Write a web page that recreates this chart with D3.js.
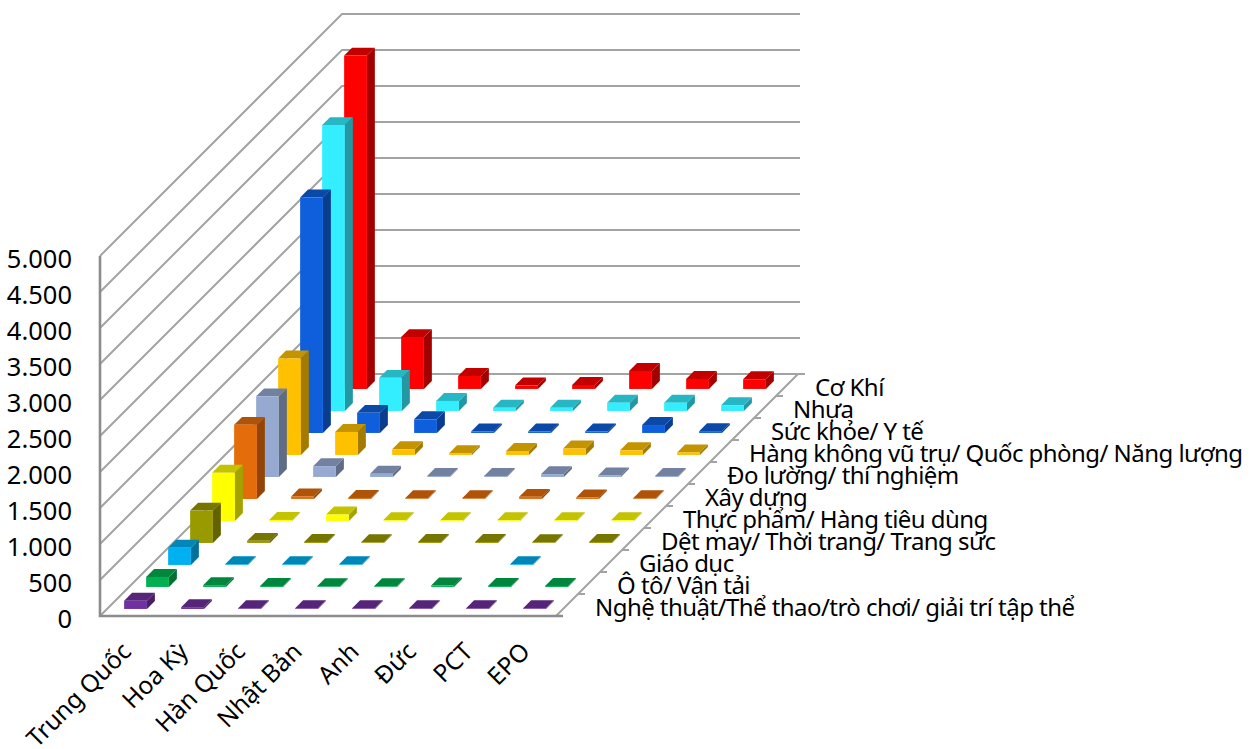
<!DOCTYPE html>
<html lang="vi">
<head>
<meta charset="utf-8">
<title>Biểu đồ cột 3D</title>
<script src="https://cdn.jsdelivr.net/npm/d3@7/dist/d3.min.js"></script>
<style>
  html, body { margin: 0; padding: 0; background: #fff; }
  svg { display: block; }
  text { font-family: "Noto Sans", "Open Sans", sans-serif; fill: #000; }
</style>
</head>
<body>
<svg id="chart" width="1256" height="749"></svg>
<script>
const countries = ["Trung Quốc", "Hoa Kỳ", "Hàn Quốc", "Nhật Bản", "Anh", "Đức", "PCT", "EPO"];
const sectors = [
  "Nghệ thuật/Thể thao/trò chơi/ giải trí tập thể",
  "Ô tô/ Vận tải",
  "Giáo dục",
  "Dệt may/ Thời trang/ Trang sức",
  "Thực phẩm/ Hàng tiêu dùng",
  "Xây dựng",
  "Đo lường/ thí nghiệm",
  "Hàng không vũ trụ/ Quốc phòng/ Năng lượng",
  "Sức khỏe/ Y tế",
  "Nhựa",
  "Cơ Khí"
];
const sectorColors = ["#7030a0", "#00b050", "#00b0f0", "#999900", "#ffff00", "#e46c0a", "#95a9d1", "#ffc000", "#0f5fdd", "#33eeff", "#ff0000"];
const valueTicks = [0, 500, 1000, 1500, 2000, 2500, 3000, 3500, 4000, 4500, 5000];

// One row per sector, one value per country; null means no bar at all.
const artsValues     = [115, 25, 10, 10, 10, 10, 10, 10];
const transportValues = [140, 25, 15, 10, 10, 20, 15, 15];
const educationValues = [240, 10, 10, 10, null, null, 10, null];
const textileValues  = [450, 30, 15, 10, 15, 15, 10, 15];
const foodValues     = [670, 15, 90, 10, 10, 10, 10, 10];
const buildingValues = [1030, 35, 15, 10, 10, 30, 20, 10];
const measureValues  = [1120, 150, 45, 15, 15, 40, 20, 15];
const energyValues   = [1340, 320, 80, 25, 55, 90, 65, 35];
const healthValues   = [3270, 280, 190, 20, 20, 20, 110, 25];
const plasticValues  = [3970, 460, 140, 45, 45, 115, 115, 80];
const mechanicValues = [4630, 720, 180, 50, 55, 250, 140, 135];
const sectorValues = [artsValues, transportValues, educationValues, textileValues, foodValues,
  buildingValues, measureValues, energyValues, healthValues, plasticValues, mechanicValues];

const svg = d3.select("#chart");

// Oblique projection: x runs along countries, z into the picture along sectors, y upward.
const xScale = d3.scaleBand().domain(d3.range(countries.length)).range([0, 456]).paddingInner(0.6).paddingOuter(0.3);
const zScale = d3.scaleBand().domain(d3.range(sectors.length)).range([0, 242]).paddingInner(0.64).paddingOuter(0.32);
const yScale = d3.scaleLinear().domain([0, 5000]).range([0, 360]);
const originX = 100, originY = 616, floorW = 456, floorD = 242;
const project = (x, y, z) => [originX + x + z, originY - y - z];
const points = (arr) => arr.map(p => p.join(",")).join(" ");

const gridColor = "#a3a3a3";
const walls = svg.append("g").attr("fill", "none").attr("stroke", gridColor).attr("stroke-width", 2);

// Side wall and back wall gridlines for every value tick.
valueTicks.forEach(v => {
  const y = yScale(v);
  const a = project(0, y, 0), b = project(0, y, floorD), c = project(floorW + 2, y, floorD);
  walls.append("polyline").attr("points", points([a, b, c]));
});

// Floor edges and the small ticks between sectors.
const floorEdge = svg.append("g").attr("fill", "none").attr("stroke", gridColor).attr("stroke-width", 2);
floorEdge.append("line")
  .attr("x1", project(floorW, 0, 0)[0]).attr("y1", project(floorW, 0, 0)[1])
  .attr("x2", project(floorW, 0, floorD)[0]).attr("y2", project(floorW, 0, floorD)[1]);
d3.range(sectors.length + 1).forEach(j => {
  const z = j * floorD / sectors.length;
  const p = project(floorW, 0, z);
  floorEdge.append("line").attr("x1", p[0]).attr("y1", p[1]).attr("x2", p[0] + 7).attr("y2", p[1]);
});

// Bars, painted from the back row forward so nearer rows overlap farther ones.
const bars = svg.append("g");
const barW = xScale.bandwidth(), barD = zScale.bandwidth();
d3.range(sectors.length).reverse().forEach(j => {
  const base = d3.color(sectorColors[j]);
  const top = base.darker(0.75), side = base.darker(1.25);
  const row = bars.selectAll(null)
    .data(sectorValues[j].map((v, i) => ({ v, i })).filter(d => d.v !== null))
    .enter().append("g");
  const corners = d => {
    const x0 = xScale(d.i), x1 = x0 + barW;
    const z0 = zScale(j), z1 = z0 + barD;
    const h = yScale(d.v);
    return { x0, x1, z0, z1, h };
  };
  row.append("polygon").attr("fill", side).attr("points", d => {
    const c = corners(d);
    return points([project(c.x1, 0, c.z0), project(c.x1, 0, c.z1), project(c.x1, c.h, c.z1), project(c.x1, c.h, c.z0)]);
  });
  row.append("polygon").attr("fill", top).attr("points", d => {
    const c = corners(d);
    return points([project(c.x0, c.h, c.z0), project(c.x1, c.h, c.z0), project(c.x1, c.h, c.z1), project(c.x0, c.h, c.z1)]);
  });
  row.append("polygon").attr("fill", base).attr("points", d => {
    const c = corners(d);
    return points([project(c.x0, 0, c.z0), project(c.x1, 0, c.z0), project(c.x1, c.h, c.z0), project(c.x0, c.h, c.z0)]);
  });
});

// Heavier front edges of the chart box.
const frame = svg.append("g").attr("fill", "none").attr("stroke", "#8c8c8c").attr("stroke-width", 2.6);
frame.append("polyline").attr("points", points([
  project(0, yScale(5000), 0), project(0, 0, 0), [project(floorW, 0, 0)[0] + 7, originY]
]));

const numberLabel = d3.formatLocale({ decimal: ",", thousands: ".", grouping: [3], currency: ["", ""] }).format(",d");

// Value labels along the front vertical edge.
svg.append("g").selectAll("text").data(valueTicks).enter().append("text")
  .attr("x", 72).attr("y", d => originY - yScale(d) + 2)
  .attr("text-anchor", "end").attr("dominant-baseline", "central")
  .attr("font-size", 25.5).text(d => numberLabel(d));

// Country labels, slanted under the front edge.
svg.append("g").selectAll("text").data(countries).enter().append("text")
  .attr("text-anchor", "end").attr("font-size", 24.5)
  .attr("transform", (d, i) => `translate(${originX + xScale(i) + barW / 2 + 4},${originY + 37}) rotate(-45)`)
  .text(d => d);

// Sector labels, stepping up the right floor edge.
svg.append("g").selectAll("text").data(sectors).enter().append("text")
  .attr("font-size", 24).attr("letter-spacing", -0.55).attr("dominant-baseline", "central")
  .attr("x", (d, j) => project(floorW, 0, (j + 0.5) * floorD / sectors.length)[0] + 28)
  .attr("y", (d, j) => project(floorW, 0, (j + 0.5) * floorD / sectors.length)[1] + 1)
  .text(d => d);
</script>
</body>
</html>
